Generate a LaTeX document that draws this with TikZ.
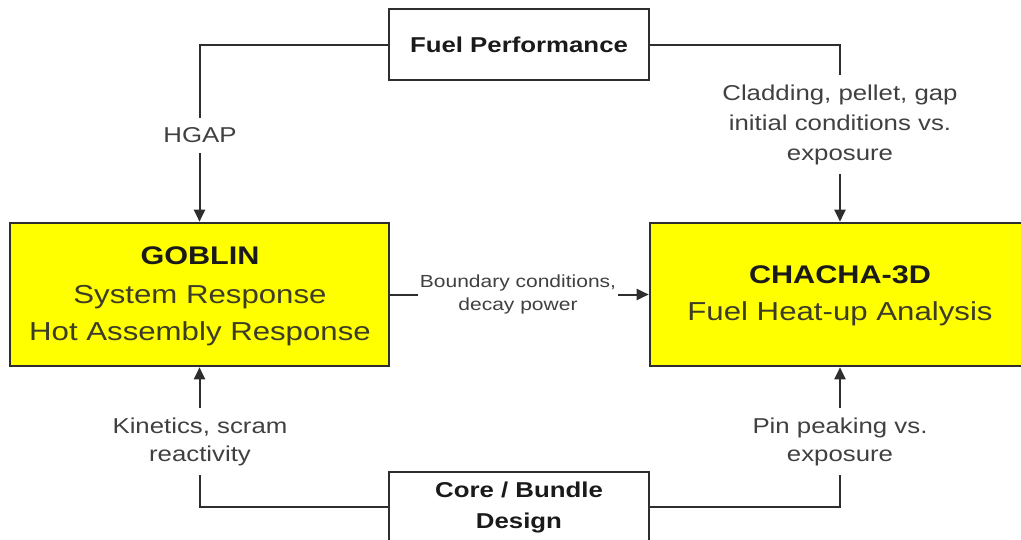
\documentclass[tikz,border=0pt]{standalone}
\usepackage{fontspec}
\setmainfont{Liberation Sans}[FakeStretch=1.2]
\usetikzlibrary{arrows.meta}
\definecolor{linec}{HTML}{2E2E2E}
\definecolor{ylw}{HTML}{FFFF00}
\definecolor{bodyc}{HTML}{3C3C28}
\definecolor{lblc}{HTML}{404040}
\definecolor{ttlc}{HTML}{1A1A1A}
\begin{document}
\begin{tikzpicture}[x=1pt,y=-1pt,
  wbox/.style={draw=linec,line width=2.2pt,fill=white,inner sep=0pt},
  ybox/.style={draw=linec,line width=2.6pt,fill=ylw,inner sep=0pt},
  conn/.style={draw=linec,line width=2pt},
  arr/.style={conn,-{Triangle[length=12pt,width=11pt]}},
  ttl/.style={anchor=base,font=\fontsize{25.5}{30}\selectfont\bfseries,text=ttlc,inner sep=0pt},
  body/.style={anchor=base,font=\fontsize{26}{31}\selectfont,text=bodyc,inner sep=0pt},
  lbl/.style={fill=white,align=center,font=\fontsize{21.5}{30}\selectfont,text=lblc,inner xsep=3pt,inner ysep=9pt},
  blbl/.style={anchor=base,font=\fontsize{21.5}{31}\selectfont\bfseries,text=ttlc,inner sep=0pt},
]
\useasboundingbox (0,0) rectangle (1021,539);
\clip (0,0) rectangle (1021,539);
\fill[white] (0,0) rectangle (1021,539);

% boxes
\node[wbox,minimum width=260pt,minimum height=71pt] (fp) at (519,44.5) {};
\node[ybox,minimum width=379pt,minimum height=143pt] (gob) at (199.5,294.5) {};
\node[ybox,minimum width=380pt,minimum height=143pt] (cha) at (840,294.5) {};
\node[wbox,minimum width=260pt,minimum height=70pt] (core) at (519,507) {};

% box texts
\node[blbl] (fpT) at (519,52) {Fuel Performance};
\node[ttl] (gobT) at (200,264) {GOBLIN};
\node[body] (gobA) at (200,303) {System Response};
\node[body] (gobB) at (200,340) {Hot Assembly Response};
\node[ttl] (chaT) at (840,283) {CHACHA-3D};
\node[body] (chaA) at (840,320) {Fuel Heat-up Analysis};
\node[blbl] (coreA) at (519,497) {Core / Bundle};
\node[blbl] (coreB) at (519,528) {Design};

% connectors
\draw[arr] (fp.west) -| (gob.north);
\draw[arr] (fp.east) -| (cha.north);
\draw[arr] (core.west) -| (gob.south);
\draw[arr] (core.east) -| (cha.south);
\draw[arr] (gob.east) -- (cha.west);

% connector labels
\node[lbl,inner ysep=10pt] (lH) at (200,135.5) {HGAP};
\node[lbl] (lC) at (840,124.5) {Cladding, pellet, gap\\initial conditions vs.\\exposure};
\node[lbl,font=\fontsize{21.5}{28}\selectfont] (lK) at (200,441.5) {Kinetics, scram\\reactivity};
\node[lbl,font=\fontsize{21.5}{28}\selectfont] (lP) at (840,441.5) {Pin peaking vs.\\exposure};
\node[lbl,font=\fontsize{17.5}{23}\selectfont,inner xsep=2pt,inner ysep=3pt] (lB) at (518,294) {Boundary conditions,\\decay power};
\end{tikzpicture}
\end{document}
